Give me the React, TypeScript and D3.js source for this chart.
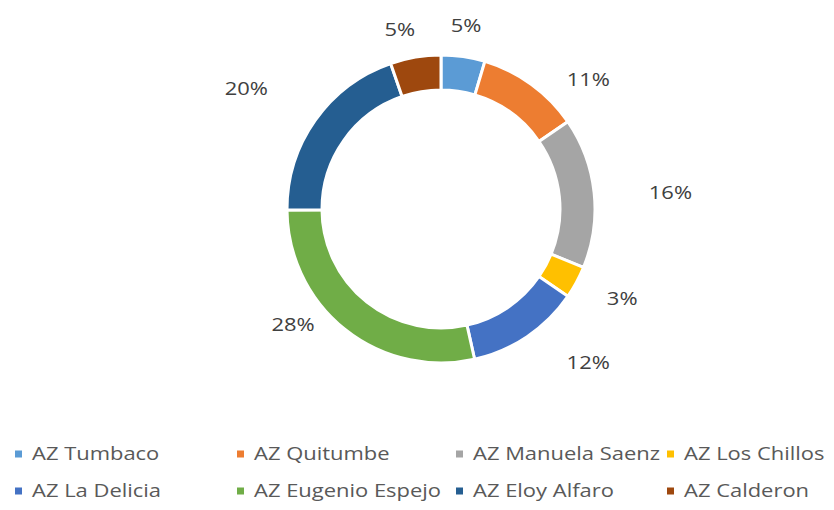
import React from "react";
import * as d3 from "d3";

const categories = [
  "AZ Tumbaco",
  "AZ Quitumbe",
  "AZ Manuela Saenz",
  "AZ Los Chillos",
  "AZ La Delicia",
  "AZ Eugenio Espejo",
  "AZ Eloy Alfaro",
  "AZ Calderon",
];
const values = [4.6, 10.8, 15.8, 3.4, 11.9, 28.4, 19.8, 5.3];
const colors = [
  "#5B9BD5",
  "#ED7D31",
  "#A5A5A5",
  "#FFC000",
  "#4472C4",
  "#70AD47",
  "#255E91",
  "#9E480E",
];

// layout (not data): label distance from centre and angular nudge (deg)
const labelRadius = [185, 196, 230, 202, 213, 188, 229, 184];
const labelAngleShift = [-0.5, 12.7, 2.1, -2.2, -9.7, 13.4, -3.5, -3.4];

const W = 834;
const H = 510;
const cx = 441;
const cy = 209;
const outerR = 154;
const innerR = 119;
const textScale = 1.22;
const fontFamily = "'Open Sans', 'DejaVu Sans', sans-serif";

export default function App() {
  const total = d3.sum(values);
  const pie = d3
    .pie<number>()
    .sort(null)
    .startAngle(0)
    .endAngle(2 * Math.PI)
    .value((d) => d);
  const arcs = pie(values);
  const arc = d3.arc<d3.PieArcDatum<number>>().innerRadius(innerR).outerRadius(outerR);
  const fmt = d3.format(".0%");

  const legendCols = [15, 237, 456, 667];
  const legendRows = [454, 491];

  return (
    <svg
      width={W}
      height={H}
      style={{ position: "absolute", left: 0, top: 0, background: "#fff" }}
      fontFamily={fontFamily}
    >
      <g transform={`translate(${cx},${cy})`}>
        {arcs.map((a, i) => (
          <path key={i} d={arc(a) || ""} fill={colors[i]} stroke="#fff" strokeWidth={3} />
        ))}
        {arcs.map((a, i) => {
          const mid = (a.startAngle + a.endAngle) / 2 + (labelAngleShift[i] * Math.PI) / 180;
          const x = Math.sin(mid) * labelRadius[i];
          const y = -Math.cos(mid) * labelRadius[i];
          return (
            <text
              key={i}
              transform={`translate(${x},${y}) scale(${textScale},1)`}
              textAnchor="middle"
              dy="0.36em"
              fontSize={18}
              fill="#404040"
            >
              {fmt(values[i] / total)}
            </text>
          );
        })}
      </g>
      <g>
        {categories.map((c, i) => {
          const col = i % 4;
          const row = Math.floor(i / 4);
          const x = legendCols[col];
          const y = legendRows[row];
          return (
            <g key={c} transform={`translate(${x},${y})`}>
              <rect x={0} y={-3.5} width={7} height={7} fill={colors[i]} />
              <text
                transform={`translate(17,0) scale(${textScale},1)`}
                dy="0.36em"
                fontSize={18}
                fill="#595959"
              >
                {c}
              </text>
            </g>
          );
        })}
      </g>
    </svg>
  );
}
